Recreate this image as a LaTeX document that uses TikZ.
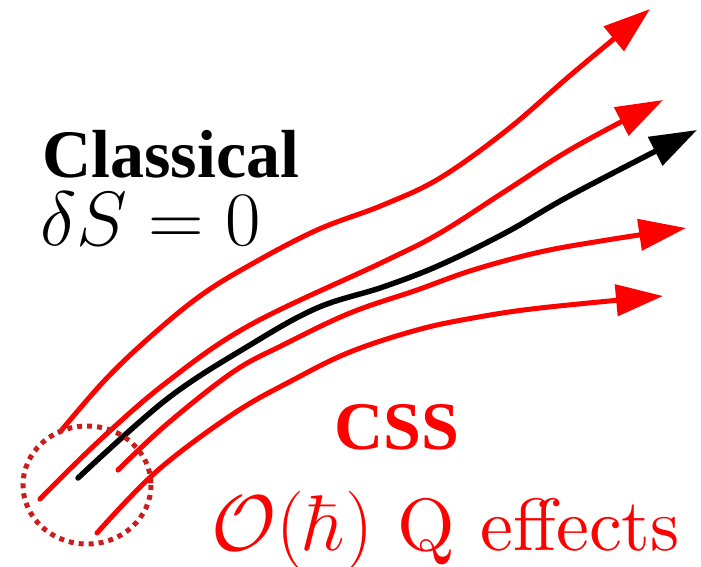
\RequirePackage{fix-cm}
\documentclass[tikz,border=0pt]{standalone}
\usepackage[no-math]{fontspec}
\newfontfamily\timesfont{Liberation Serif}
\newfontfamily\lmten{lmroman10-regular.otf}
\usetikzlibrary{arrows.meta}
\definecolor{circred}{RGB}{200,30,30}
\begin{document}
\begin{tikzpicture}[x=1pt,y=-1pt,
  traj/.style={line width=5pt, line cap=round, smooth, tension=0.6,
     -{Triangle[length=47pt,width=31pt]}},
  redtraj/.style={traj, draw=red, fill=none},
  blacktraj/.style={traj, draw=black, line width=5.5pt},
  lbl/.style={inner sep=0pt, anchor=base west},
  circ/.style={draw=circred, line width=5pt, dash pattern=on 5pt off 5pt}]
\useasboundingbox (0,0) rectangle (701,566);
% top red
\draw[redtraj] plot coordinates {(60,432) (105,380) (150,337) (200,296) (250,265) (317,230) (383,205) (440,178) (507,130) (573,73) (650,9)};
% second red
\draw[redtraj] plot coordinates {(40,499) (100,440) (167,382) (250,325) (383,262) (440,233) (507,190) (573,148) (663,100)};
% black classical
\draw[blacktraj] plot coordinates {(78,478) (167,399) (250,345) (317,308) (383,287) (440,265) (507,232) (573,194) (697,130)};
% third red
\draw[redtraj] plot coordinates {(118,470) (167,424) (233,372) (283,345) (350,313) (417,290) (473,270) (540,252) (607,240) (686,228)};
% fourth red
\draw[redtraj] plot coordinates {(97,533) (157,471) (233,414) (293,380) (350,352) (417,330) (473,318) (540,308) (663,296)};
% dotted circle
\draw[circ] (87,485) ellipse [x radius=64, y radius=59];
% labels
\node[lbl, font=\timesfont\bfseries\fontsize{68}{70}\selectfont] (classical) at (42,177) {Classical};
\node[lbl, font=\fontsize{77}{80}\selectfont] (action) at (40,245) {$\delta S = 0$};
\node[lbl, text=red, font=\timesfont\bfseries\fontsize{68}{70}\selectfont] (css) at (334,449) {CSS};
\node[lbl, text=red, font=\fontsize{79}{82}\selectfont] (qorder) at (211,550) {$\mathcal{O}(\hbar)$};
\node[lbl, text=red, font=\lmten\fontsize{74}{78}\selectfont] (qletter) at (397,550) {Q};
\node[lbl, text=red, font=\lmten\fontsize{74}{78}\selectfont] (qeffects) at (480,550) {effects};
\end{tikzpicture}
\end{document}
